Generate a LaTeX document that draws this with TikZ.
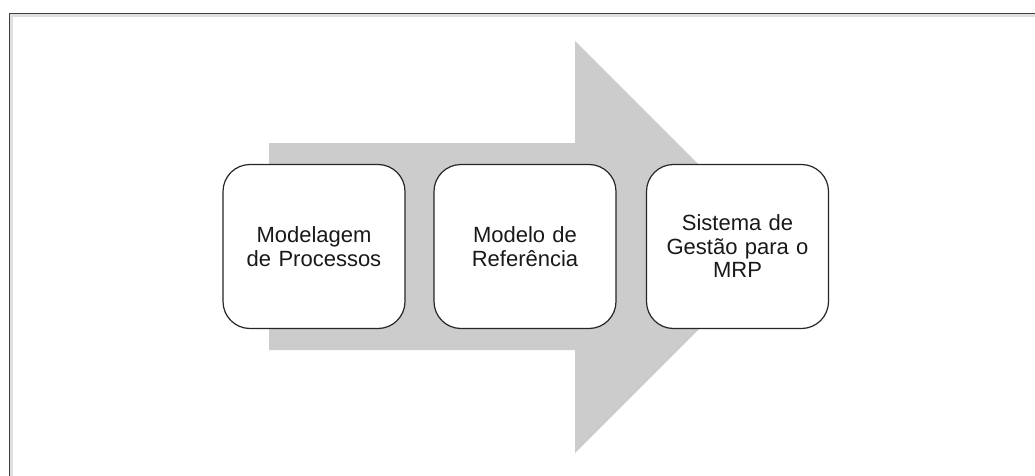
\documentclass[tikz,border=0pt]{standalone}
\usepackage{fontspec}
\setmainfont{Liberation Sans}
\begin{document}
\begin{tikzpicture}[x=1pt,y=-1pt,
  stagebox/.style={draw=black!85, line width=1.2pt, fill=white, rounded corners=27pt,
    minimum width=182pt, minimum height=164pt, text width=176pt, align=center,
    inner sep=0pt, font=\fontsize{22}{23.5}\selectfont, text=black!90},
  arrowfill/.style={fill=black!20, draw=none}]
\useasboundingbox (0,0) rectangle (1035,476);
\clip (0,0) rectangle (1035,476);
% frame with soft shadow
\draw[black!12, line width=2.5pt] (11.5,480) -- (11.5,15.5) -- (1040,15.5);
\draw[black!75, line width=1.5pt] (9.5,480) -- (9.5,13.5) -- (1040,13.5);
% big arrow
\fill[arrowfill] (269,143) -- (575,143) -- (575,41) -- (781,247) -- (575,453) -- (575,350) -- (269,350) -- cycle;
% stages
\node[stagebox] (s1) at (314,246.5) {Modelagem\\de Processos};
\node[stagebox] (s2) at (525,246.5) {Modelo de\\Referência};
\node[stagebox] (s3) at (737.5,246.5) {Sistema de\\Gestão para o\\MRP};
\end{tikzpicture}
\end{document}
